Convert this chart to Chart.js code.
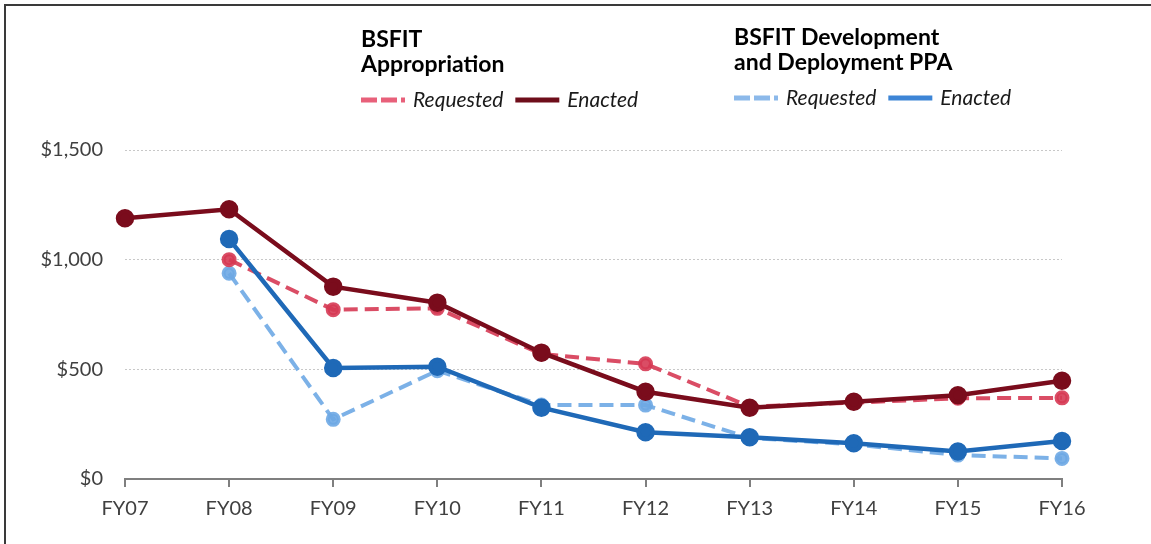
<!DOCTYPE html>
<html>
<head>
<meta charset="utf-8">
<script src="https://cdn.jsdelivr.net/npm/chart.js@4"></script>
<style>
    html, body { margin: 0; padding: 0; background: #fff; }
    #wrap { position: relative; width: 1151px; height: 544px; overflow: hidden; }
    #frame {
        position: absolute; left: 4px; top: 4px; right: -4px; bottom: -4px;
        border-top: 2px solid #3a3a3a; border-left: 2px solid #3a3a3a;
        pointer-events: none;
    }
</style>
</head>
<body>
<div id="wrap">
    <canvas id="myChart" width="1151" height="544"></canvas>
    <div id="frame"></div>
</div>
<script>
const years = ['FY07', 'FY08', 'FY09', 'FY10', 'FY11', 'FY12', 'FY13', 'FY14', 'FY15', 'FY16'];

// BSFIT Appropriation ($ millions)
const appropRequested = [null, 1000, 772, 778, 570, 525, 330, 348, 368, 370];
const appropEnacted = [1189, 1230, 877, 804, 576, 398, 325, 352, 382, 448];

// BSFIT Development and Deployment PPA
const ddRequested = [null, 938, 272, 494, 337, 337, 187, 158, 109, 94];
const ddEnacted = [null, 1094, 506, 512, 325, 213, 190, 163, 125, 173];

const yTicks = [0, 500, 1000, 1500];

const legendGroups = [
    { title: ['BSFIT', 'Appropriation'], sets: [0, 1], x: 361, y: 47 },
    { title: ['BSFIT Development', 'and Deployment PPA'], sets: [2, 3], x: 734, y: 45 }
];

const FONT = 'Lato, "Open Sans", sans-serif';

// draws the two titled legend groups above the plot
const groupLegend = {
    id: 'groupLegend',
    afterDraw(chart, args, opts) {
        const ctx = chart.ctx;
        ctx.save();
        ctx.textAlign = 'left';
        ctx.textBaseline = 'alphabetic';
        opts.groups.forEach(function (g) {
            ctx.fillStyle = '#000';
            ctx.font = 'bold 23px ' + FONT;
            g.title.forEach(function (line, i) {
                ctx.fillText(line, g.x, g.y + i * 25);
            });
            var x = g.x;
            var rowY = g.y + 53;
            g.sets.forEach(function (idx) {
                var ds = chart.data.datasets[idx];
                ctx.beginPath();
                ctx.setLineDash(ds.borderDash ? [16, 4] : []);
                ctx.strokeStyle = ds.legendColor;
                ctx.lineWidth = 5;
                ctx.lineCap = 'butt';
                ctx.moveTo(x, rowY);
                ctx.lineTo(x + 44, rowY);
                ctx.stroke();
                x += 52;
                ctx.font = 'italic 21px ' + FONT;
                ctx.fillStyle = '#1a1a1a';
                ctx.fillText(ds.label, x, rowY + 7);
                x += ctx.measureText(ds.label).width + 12;
            });
        });
        ctx.restore();
    }
};

const data = {
    labels: years,
    datasets: [{
        label: 'Requested',
        data: appropRequested,
        borderColor: 'rgba(214, 58, 84, 0.9)',
        backgroundColor: 'rgba(214, 58, 84, 0.9)',
        legendColor: '#e8607a',
        borderDash: [14, 7],
        borderWidth: 4,
        pointRadius: 5.5,
        order: 3
    }, {
        label: 'Enacted',
        data: appropEnacted,
        borderColor: '#7a0c1c',
        backgroundColor: '#7a0c1c',
        legendColor: '#6e0d1a',
        borderWidth: 4.5,
        pointRadius: 7,
        order: 1
    }, {
        label: 'Requested',
        data: ddRequested,
        borderColor: 'rgba(110, 168, 228, 0.9)',
        backgroundColor: 'rgba(110, 168, 228, 0.9)',
        legendColor: '#8cb9ea',
        borderDash: [14, 7],
        borderWidth: 4,
        pointRadius: 5.5,
        order: 4
    }, {
        label: 'Enacted',
        data: ddEnacted,
        borderColor: '#1f69b7',
        backgroundColor: '#1f69b7',
        legendColor: '#3d85d6',
        borderWidth: 4.5,
        pointRadius: 7,
        order: 2
    }]
};

const config = {
    type: 'line',
    data: data,
    options: {
        responsive: false,
        animation: false,
        elements: {
            line: { tension: 0 },
            point: { borderWidth: 0, hoverRadius: 7 }
        },
        layout: {
            padding: { left: 0, right: 89, top: 150, bottom: 0 }
        },
        plugins: {
            legend: { display: false },
            tooltip: { enabled: false },
            groupLegend: { groups: legendGroups }
        },
        scales: {
            x: {
                offset: false,
                grid: {
                    display: true,
                    drawOnChartArea: false,
                    drawTicks: true,
                    tickLength: 8,
                    color: '#7f7f7f',
                    lineWidth: 2
                },
                border: { display: true, color: '#7f7f7f', width: 2 },
                ticks: {
                    color: '#404040',
                    font: { family: FONT, size: 20 },
                    padding: 10,
                    maxRotation: 0,
                    autoSkip: false
                },
                afterFit(scale) { scale.height = 65; }
            },
            y: {
                min: yTicks[0],
                max: yTicks[yTicks.length - 1],
                afterBuildTicks(scale) {
                    scale.ticks = yTicks.map(function (v) { return { value: v }; });
                },
                grid: { color: '#c8c8c8', lineWidth: 1, drawTicks: false },
                border: { display: false, dash: [2, 2] },
                ticks: {
                    color: '#404040',
                    font: { family: FONT, size: 20 },
                    padding: 22,
                    callback: function (v) { return '$' + v.toLocaleString('en-US'); }
                },
                afterFit(scale) { scale.width = 125; }
            }
        }
    },
    plugins: [groupLegend]
};

const myChart = new Chart(document.getElementById('myChart'), config);
</script>
</body>
</html>
